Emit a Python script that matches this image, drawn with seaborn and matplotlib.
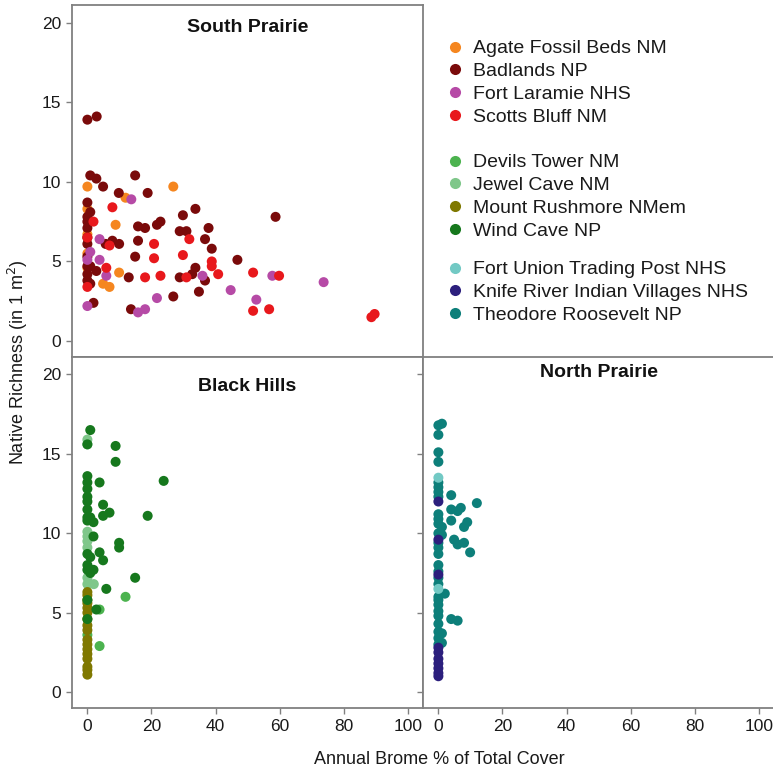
import pandas as pd
import matplotlib.pyplot as plt
import seaborn as sns
from matplotlib.lines import Line2D

sns.set_style("white")
plt.rcParams['font.family'] = ['Liberation Sans', 'DejaVu Sans']

# Region / park names (legend order)
south_parks = ['Agate Fossil Beds NM', 'Badlands NP', 'Fort Laramie NHS', 'Scotts Bluff NM']
hills_parks = ['Devils Tower NM', 'Jewel Cave NM', 'Mount Rushmore NMem', 'Wind Cave NP']
north_parks = ['Fort Union Trading Post NHS', 'Knife River Indian Villages NHS', 'Theodore Roosevelt NP']

park_colors = {
    'Agate Fossil Beds NM': '#f5861f',
    'Badlands NP': '#7a0a0a',
    'Fort Laramie NHS': '#b64aa6',
    'Scotts Bluff NM': '#e8181c',
    'Devils Tower NM': '#4cb34f',
    'Jewel Cave NM': '#7fc78a',
    'Mount Rushmore NMem': '#7f7800',
    'Wind Cave NP': '#16781d',
    'Fort Union Trading Post NHS': '#72c9c4',
    'Knife River Indian Villages NHS': '#2c1f7d',
    'Theodore Roosevelt NP': '#0d7f7a',
}

# South Prairie plots (x = annual brome %, y = native richness)
agate_x = [0, 26.8, 11.9, 8.8, 0, 0, 0, 9.9, 4.9, 6.9, 0]
agate_y = [9.7, 9.7, 9.0, 7.3, 8.3, 6.7, 5.5, 4.3, 3.6, 3.4, 4.6]

badlands_x = [0, 2.9, 0.9, 2.8, 4.9, 14.9, 9.8, 18.8, 0, 0.9, 0, 0, 0, 0, 0,
              15.8, 18.0, 21.7, 22.8, 29.8, 33.7, 28.8, 30.9, 37.8, 58.7,
              15.8, 36.7, 38.8, 5.7, 7.8, 9.9, 14.9, 46.8, 0, 0.9, 2.8, 0, 0,
              0.9, 12.9, 28.8, 32.7, 33.7, 36.7, 34.8, 26.8, 1.9, 13.6, 0]
badlands_y = [13.9, 14.1, 10.4, 10.2, 9.7, 10.4, 9.3, 9.3, 8.7, 8.1, 7.8, 7.5, 7.1, 6.1, 6.5,
              7.2, 7.1, 7.3, 7.5, 7.9, 8.3, 6.9, 6.9, 7.1, 7.8,
              6.3, 6.4, 5.8, 6.1, 6.3, 6.1, 5.3, 5.1, 4.7, 4.7, 4.4, 4.2, 3.8,
              3.6, 4.0, 4.0, 4.2, 4.6, 3.8, 3.1, 2.8, 2.4, 2.0, 5.3]

laramie_x = [13.7, 3.8, 0.9, 0, 3.8, 5.9, 0, 15.8, 18.0, 21.7, 35.9, 44.7, 52.7, 57.7, 73.7]
laramie_y = [8.9, 6.4, 5.6, 5.1, 5.1, 4.1, 2.2, 1.8, 2.0, 2.7, 4.1, 3.2, 2.6, 4.1, 3.7]

scotts_x = [7.8, 1.9, 0, 6.9, 20.8, 31.8, 20.8, 29.8, 38.8, 38.8, 40.8, 5.9, 18.0,
            22.8, 30.9, 0, 51.7, 59.8, 51.7, 56.7, 88.6, 89.6]
scotts_y = [8.4, 7.5, 6.5, 6.0, 6.1, 6.4, 5.2, 5.4, 5.0, 4.7, 4.2, 4.6, 4.0,
            4.1, 4.0, 3.4, 4.3, 4.1, 1.9, 2.0, 1.5, 1.7]

# Black Hills plots
devils_x = [11.9, 3.8, 3.8, 0]
devils_y = [6.0, 2.9, 5.2, 3.6]

jewel_x = [0, 0, 0, 0, 0, 0, 0, 2.0, 0]
jewel_y = [15.9, 10.1, 9.8, 9.5, 9.1, 6.8, 7.2, 6.8, 15.6]

rushmore_x = [0] * 17
rushmore_y = [6.3, 6.1, 5.8, 5.6, 5.3, 5.0, 4.6, 4.2, 3.9, 3.3, 3.0, 2.7, 2.4, 2.1, 1.6, 1.4, 1.1]

windcave_x = [0.9, 0, 8.8, 8.8, 23.8, 3.8, 0, 0, 0, 0, 0, 0, 4.9, 4.9, 6.9, 18.8, 0, 0.9,
              1.9, 1.9, 9.9, 9.9, 0, 0.9, 3.8, 4.9, 0, 0, 1.9, 0.9, 14.9, 5.9, 0, 2.8, 0, 0]
windcave_y = [16.5, 15.6, 15.5, 14.5, 13.3, 13.2, 13.6, 13.2, 12.8, 12.3, 12.0, 11.5, 11.8, 11.1,
              11.3, 11.1, 10.8, 11.0, 10.7, 9.8, 9.4, 9.1, 8.7, 8.5, 8.8, 8.3, 8.0, 7.7, 7.7,
              7.5, 7.2, 6.5, 5.8, 5.2, 4.6, 11.0]

# North Prairie plots
roosevelt_x = [0, 1.1, 0, 0, 0, 0, 0, 0, 0, 4.0, 12.0, 4.0, 7.0, 6.0, 4.0, 9.0, 8.0, 0, 0,
               1.1, 0, 1.1, 4.9, 6.0, 8.0, 9.9, 0, 0, 0, 0, 0, 0, 2.0, 0, 0, 0, 0, 0, 4.0,
               6.0, 0, 1.1, 0, 1.1, 0, 0, 0, 0]
roosevelt_y = [16.8, 16.9, 16.2, 15.1, 14.5, 13.2, 12.9, 12.6, 12.3, 12.4, 11.9, 11.5, 11.6,
               11.4, 10.8, 10.7, 10.4, 10.9, 10.6, 10.4, 10.0, 9.9, 9.6, 9.3, 9.4, 8.8, 9.4,
               9.1, 8.7, 8.0, 7.2, 6.8, 6.2, 5.8, 5.5, 5.1, 4.8, 4.3, 4.6, 4.5, 3.8, 3.7,
               3.4, 3.1, 3.0, 11.2, 7.6, 6.0]

knife_x = [0] * 10
knife_y = [12.0, 9.6, 7.4, 2.8, 2.5, 2.1, 1.8, 1.5, 1.2, 1.0]

fortunion_x = [0, 0]
fortunion_y = [13.5, 6.5]

tick_vals = [0, 20, 40, 60, 80, 100]
ytick_vals = [0, 5, 10, 15, 20]


def make_df(pairs):
    frames = []
    for park, xs, ys in pairs:
        frames.append(pd.DataFrame({'brome': xs, 'richness': ys, 'park': park}))
    return pd.concat(frames, ignore_index=True)


south_df = make_df([('Agate Fossil Beds NM', agate_x, agate_y),
                    ('Badlands NP', badlands_x, badlands_y),
                    ('Fort Laramie NHS', laramie_x, laramie_y),
                    ('Scotts Bluff NM', scotts_x, scotts_y)])
hills_df = make_df([('Devils Tower NM', devils_x, devils_y),
                    ('Jewel Cave NM', jewel_x, jewel_y),
                    ('Mount Rushmore NMem', rushmore_x, rushmore_y),
                    ('Wind Cave NP', windcave_x, windcave_y)])
north_df = make_df([('Theodore Roosevelt NP', roosevelt_x, roosevelt_y),
                    ('Knife River Indian Villages NHS', knife_x, knife_y),
                    ('Fort Union Trading Post NHS', fortunion_x, fortunion_y)])

W, H = 773, 770
fig = plt.figure(figsize=(W / 100, H / 100), dpi=100)


def px_axes(x0, y0, x1, y1):
    return fig.add_axes([x0 / W, 1 - y1 / H, (x1 - x0) / W, (y1 - y0) / H])


ax_s = px_axes(72, 5, 423, 357)
ax_b = px_axes(72, 357, 423, 708)
ax_n = px_axes(423, 357, 774, 708)

frame_col = '#808080'
panels = [(ax_s, south_df, 'South Prairie', 0.937),
          (ax_b, hills_df, 'Black Hills', 0.917),
          (ax_n, north_df, 'North Prairie', 0.955)]

for ax, df, title, ty in panels:
    sns.scatterplot(data=df, x='brome', y='richness', hue='park', palette=park_colors,
                    s=52, linewidth=0, alpha=1, ax=ax, legend=False)
    ax.set_xlim(-4.8, 104.7)
    ax.set_ylim(-1.0, 21.1)
    ax.set_xticks(tick_vals)
    ax.set_yticks(ytick_vals)
    ax.set_xlabel('')
    ax.set_ylabel('')
    ax.tick_params(direction='out', length=4, width=1, color=frame_col,
                   labelsize=12.5, labelcolor='#1a1a1a', pad=4,
                   bottom=True, left=True)
    for sp in ax.spines.values():
        sp.set_color(frame_col)
        sp.set_linewidth(1.3)
    ax.text(0.5, ty, title, transform=ax.transAxes, ha='center', va='center',
            fontsize=14, fontweight='bold', color='#111111')

ax_s.tick_params(labelbottom=False)
ax_n.tick_params(labelleft=False)

# Legend in the empty top-right corner, one block per region
for group, top_px in [(south_parks, 32), (hills_parks, 146), (north_parks, 253)]:
    handles = [Line2D([], [], marker='o', linestyle='', markersize=8,
                      markerfacecolor=park_colors[p], markeredgewidth=0) for p in group]
    fig.legend(handles, group, loc='upper left', bbox_to_anchor=(437 / W, 1 - top_px / H),
               frameon=False, fontsize=14, handlelength=1.0, handletextpad=0.45,
               labelspacing=0.27, borderaxespad=0, labelcolor='#1a1a1a')

fig.text(439 / W, 1 - 760 / H, 'Annual Brome % of Total Cover', ha='center', va='center',
         fontsize=13, color='#1a1a1a')
fig.text(18 / W, 1 - 362 / H, 'Native Richness (in 1 m$^2$)', ha='center', va='center',
         rotation=90, fontsize=13, color='#1a1a1a')

fig.savefig('out.png', dpi=100)
